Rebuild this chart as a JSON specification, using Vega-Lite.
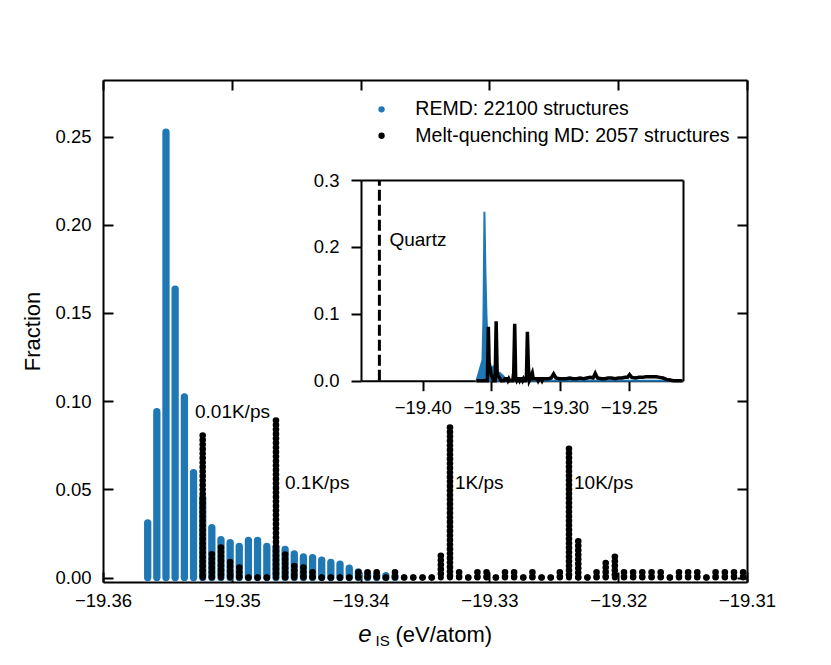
{
  "$schema": "https://vega.github.io/schema/vega-lite/v6.json",
  "width": 644,
  "height": 502,
  "autosize": "none",
  "padding": {"left": 103, "top": 80, "right": 84, "bottom": 83},
  "background": "white",
  "config": {
    "view": {"stroke": null},
    "font": "Liberation Sans",
    "axis": {
      "grid": false,
      "domainColor": "black",
      "domainWidth": 2,
      "tickColor": "black",
      "tickWidth": 2,
      "labelColor": "black",
      "labelFont": "Liberation Sans",
      "labelFontSize": 18.5,
      "titleFont": "Liberation Sans",
      "titleFontSize": 22,
      "titleFontWeight": "normal",
      "titleColor": "black",
      "labelFlush": false,
      "labelOverlap": false
    },
    "legend": {
      "labelFont": "Liberation Sans",
      "labelFontSize": 19.5,
      "labelColor": "black",
      "labelLimit": 0
    }
  },
  "datasets": {
    "bins": [
      {"e": -19.3609, "remd": 0, "mq": 0},
      {"e": -19.35653, "remd": 0.031, "mq": 0},
      {"e": -19.35582, "remd": 0.094, "mq": 0},
      {"e": -19.35511, "remd": 0.2525, "mq": 0},
      {"e": -19.3544, "remd": 0.1634, "mq": 0},
      {"e": -19.35368, "remd": 0.1024, "mq": 0},
      {"e": -19.35297, "remd": 0.0595, "mq": 0},
      {"e": -19.35226, "remd": 0.045, "mq": 0.0805},
      {"e": -19.35155, "remd": 0.0283, "mq": 0.0132},
      {"e": -19.35084, "remd": 0.0215, "mq": 0.017},
      {"e": -19.35013, "remd": 0.0197, "mq": 0.0088},
      {"e": -19.34942, "remd": 0.0177, "mq": 0.0056},
      {"e": -19.34871, "remd": 0.0211, "mq": 0},
      {"e": -19.348, "remd": 0.0211, "mq": 0},
      {"e": -19.34728, "remd": 0.0177, "mq": 0},
      {"e": -19.34657, "remd": 0.017, "mq": 0.089},
      {"e": -19.34586, "remd": 0.016, "mq": 0.013},
      {"e": -19.34515, "remd": 0.0134, "mq": 0.0065},
      {"e": -19.34444, "remd": 0.0117, "mq": 0.0056},
      {"e": -19.34373, "remd": 0.0112, "mq": 0.003},
      {"e": -19.34302, "remd": 0.0098, "mq": 0},
      {"e": -19.34231, "remd": 0.0086, "mq": 0},
      {"e": -19.3416, "remd": 0.0075, "mq": 0},
      {"e": -19.34088, "remd": 0.0053, "mq": 0},
      {"e": -19.34017, "remd": 0.0032, "mq": 0.003},
      {"e": -19.33946, "remd": 0.0022, "mq": 0.003},
      {"e": -19.33875, "remd": 0.0015, "mq": 0.003},
      {"e": -19.33804, "remd": 0.001, "mq": 0},
      {"e": -19.33733, "remd": 0.0006, "mq": 0.003},
      {"e": -19.33662, "remd": 0, "mq": 0},
      {"e": -19.33591, "remd": 0, "mq": 0},
      {"e": -19.33519, "remd": 0, "mq": 0},
      {"e": -19.33448, "remd": 0, "mq": 0},
      {"e": -19.33377, "remd": 0, "mq": 0.0123},
      {"e": -19.33306, "remd": 0, "mq": 0.085},
      {"e": -19.33235, "remd": 0, "mq": 0.003},
      {"e": -19.33164, "remd": 0, "mq": 0},
      {"e": -19.33093, "remd": 0, "mq": 0.003},
      {"e": -19.33022, "remd": 0, "mq": 0.003},
      {"e": -19.3295, "remd": 0, "mq": 0},
      {"e": -19.32879, "remd": 0, "mq": 0.003},
      {"e": -19.32808, "remd": 0, "mq": 0.003},
      {"e": -19.32737, "remd": 0, "mq": 0},
      {"e": -19.32666, "remd": 0, "mq": 0.003},
      {"e": -19.32595, "remd": 0, "mq": 0},
      {"e": -19.32524, "remd": 0, "mq": 0},
      {"e": -19.32453, "remd": 0, "mq": 0.003},
      {"e": -19.32382, "remd": 0, "mq": 0.073},
      {"e": -19.3231, "remd": 0, "mq": 0.0205},
      {"e": -19.32239, "remd": 0, "mq": 0},
      {"e": -19.32168, "remd": 0, "mq": 0.003},
      {"e": -19.32097, "remd": 0, "mq": 0.0082},
      {"e": -19.32026, "remd": 0, "mq": 0.0118},
      {"e": -19.31955, "remd": 0, "mq": 0.003},
      {"e": -19.31884, "remd": 0, "mq": 0.003},
      {"e": -19.31813, "remd": 0, "mq": 0.003},
      {"e": -19.31741, "remd": 0, "mq": 0.003},
      {"e": -19.3167, "remd": 0, "mq": 0.003},
      {"e": -19.31599, "remd": 0, "mq": 0},
      {"e": -19.31528, "remd": 0, "mq": 0.003},
      {"e": -19.31457, "remd": 0, "mq": 0.003},
      {"e": -19.31386, "remd": 0, "mq": 0.003},
      {"e": -19.31315, "remd": 0, "mq": 0},
      {"e": -19.31244, "remd": 0, "mq": 0.003},
      {"e": -19.31172, "remd": 0, "mq": 0.003},
      {"e": -19.31101, "remd": 0, "mq": 0.003},
      {"e": -19.3103, "remd": 0, "mq": 0.003},
      {"e": -19.3085, "remd": 0, "mq": 0.003},
      {"e": -19.3065, "remd": 0, "mq": 0.004},
      {"e": -19.3047, "remd": 0, "mq": 0.01},
      {"e": -19.303, "remd": 0, "mq": 0.004},
      {"e": -19.3005, "remd": 0, "mq": 0.003},
      {"e": -19.298, "remd": 0, "mq": 0.003},
      {"e": -19.2955, "remd": 0, "mq": 0.003},
      {"e": -19.293, "remd": 0, "mq": 0.004},
      {"e": -19.2905, "remd": 0, "mq": 0.003},
      {"e": -19.288, "remd": 0, "mq": 0.003},
      {"e": -19.2855, "remd": 0, "mq": 0.004},
      {"e": -19.283, "remd": 0, "mq": 0.003},
      {"e": -19.2805, "remd": 0, "mq": 0.004},
      {"e": -19.278, "remd": 0, "mq": 0.005},
      {"e": -19.276, "remd": 0, "mq": 0.004},
      {"e": -19.2744, "remd": 0, "mq": 0.011},
      {"e": -19.2728, "remd": 0, "mq": 0.004},
      {"e": -19.27, "remd": 0, "mq": 0.003},
      {"e": -19.2675, "remd": 0, "mq": 0.003},
      {"e": -19.265, "remd": 0, "mq": 0.004},
      {"e": -19.2625, "remd": 0, "mq": 0.004},
      {"e": -19.26, "remd": 0, "mq": 0.003},
      {"e": -19.2575, "remd": 0, "mq": 0.004},
      {"e": -19.255, "remd": 0, "mq": 0.004},
      {"e": -19.2525, "remd": 0, "mq": 0.005},
      {"e": -19.2508, "remd": 0, "mq": 0.005},
      {"e": -19.2494, "remd": 0, "mq": 0.009},
      {"e": -19.2478, "remd": 0, "mq": 0.005},
      {"e": -19.245, "remd": 0, "mq": 0.004},
      {"e": -19.2425, "remd": 0, "mq": 0.005},
      {"e": -19.24, "remd": 0, "mq": 0.005},
      {"e": -19.2375, "remd": 0, "mq": 0.006},
      {"e": -19.235, "remd": 0, "mq": 0.006},
      {"e": -19.2325, "remd": 0, "mq": 0.006},
      {"e": -19.23, "remd": 0, "mq": 0.006},
      {"e": -19.2275, "remd": 0, "mq": 0.005},
      {"e": -19.225, "remd": 0, "mq": 0.004},
      {"e": -19.2225, "remd": 0, "mq": 0.002},
      {"e": -19.22, "remd": 0, "mq": 0.001},
      {"e": -19.2175, "remd": 0, "mq": 0},
      {"e": -19.211, "remd": 0, "mq": 0}
    ],
    "rates": [
      {"rate": "0.01K/ps", "e": -19.35286, "y": 0.094},
      {"rate": "0.1K/ps", "e": -19.34587, "y": 0.0534},
      {"rate": "1K/ps", "e": -19.33267, "y": 0.0534},
      {"rate": "10K/ps", "e": -19.32343, "y": 0.0534}
    ],
    "quartz": [
      {"label": "Quartz", "e": -19.4316}
    ]
  },
  "layer": [
    {
      "data": {"name": "bins"},
      "transform": [{"filter": {"field": "remd", "gt": 0}}],
      "mark": {"type": "rule", "strokeWidth": 7.3, "strokeCap": "round"},
      "encoding": {
        "x": {
          "field": "e", "type": "quantitative",
          "scale": {"domain": [-19.36, -19.31], "nice": false, "zero": false},
          "axis": {
            "orient": "bottom",
            "values": [-19.36, -19.35, -19.34, -19.33, -19.32, -19.31],
            "format": ".2f", "tickSize": -10, "labelPadding": 19.5,
            "title": "e", "titleFontStyle": "italic", "titleFontSize": 24,
            "titleAlign": "left", "titleBaseline": "alphabetic",
            "titleX": 254.7, "titleY": 59
          }
        },
        "y": {
          "field": "remd", "type": "quantitative",
          "scale": {"domain": [-0.00255, 0.28203], "nice": false, "zero": false},
          "axis": {
            "orient": "left",
            "values": [0, 0.05, 0.1, 0.15, 0.2, 0.25],
            "format": ".2f", "tickSize": -10, "labelPadding": 22,
            "title": "Fraction", "titlePadding": 10
          }
        },
        "y2": {"datum": 0},
        "color": {
          "datum": "REMD: 22100 structures",
          "scale": {
            "domain": ["REMD: 22100 structures", "Melt-quenching MD: 2057 structures"],
            "range": ["#1f77b4", "black"]
          },
          "legend": {
            "orient": "none", "legendX": 268.8, "legendY": 19.6,
            "title": null, "padding": 0,
            "symbolType": "circle", "symbolSize": 40, "symbolStrokeWidth": 0,
            "labelOffset": 24, "rowPadding": 5.4
          }
        }
      }
    },
    {
      "data": {"name": "bins"},
      "transform": [{"filter": {"field": "e", "range": [-19.3526, -19.31]}}],
      "mark": {"type": "rule", "color": "black", "strokeWidth": 6.6, "strokeCap": "round", "strokeDash": [0, 4.5]},
      "encoding": {
        "x": {
          "field": "e", "type": "quantitative",
          "scale": {"domain": [-19.36, -19.31], "nice": false, "zero": false},
          "axis": {
            "orient": "bottom", "domain": false, "ticks": false, "labels": false,
            "title": "IS", "titleFontSize": 15,
            "titleAlign": "left", "titleBaseline": "alphabetic",
            "titleX": 272, "titleY": 63
          }
        },
        "y": {
          "field": "mq", "type": "quantitative",
          "scale": {"domain": [-0.00255, 0.28203], "nice": false, "zero": false},
          "axis": null
        },
        "y2": {"datum": 0}
      }
    },
    {
      "data": {"name": "bins"},
      "transform": [{"filter": {"field": "e", "range": [-19.3526, -19.31]}}],
      "mark": {"type": "point", "filled": true, "shape": "circle", "size": 36, "opacity": 1},
      "encoding": {
        "x": {
          "field": "e", "type": "quantitative",
          "scale": {"domain": [-19.36, -19.31], "nice": false, "zero": false},
          "axis": {
            "orient": "top",
            "values": [-19.36, -19.35, -19.34, -19.33, -19.32, -19.31],
            "tickSize": -10, "labels": false, "title": null
          }
        },
        "y": {
          "datum": 0, "type": "quantitative",
          "scale": {"domain": [-0.00255, 0.28203], "nice": false, "zero": false},
          "axis": {
            "orient": "right",
            "values": [0, 0.05, 0.1, 0.15, 0.2, 0.25],
            "tickSize": -10, "labels": false, "title": null
          }
        },
        "color": {"datum": "Melt-quenching MD: 2057 structures"}
      }
    },
    {
      "data": {"name": "rates"},
      "mark": {"type": "text", "align": "left", "baseline": "middle", "fontSize": 19, "font": "Liberation Sans", "color": "black"},
      "encoding": {
        "x": {
          "field": "e", "type": "quantitative",
          "scale": {"domain": [-19.36, -19.31], "nice": false, "zero": false},
          "axis": {
            "orient": "bottom", "domain": false, "ticks": false, "labels": false,
            "title": "(eV/atom)",
            "titleAlign": "left", "titleBaseline": "alphabetic",
            "titleX": 292, "titleY": 59
          }
        },
        "y": {
          "field": "y", "type": "quantitative",
          "scale": {"domain": [-0.00255, 0.28203], "nice": false, "zero": false},
          "axis": null
        },
        "text": {"field": "rate", "type": "nominal"}
      }
    },
    {
      "data": {"name": "bins"},
      "mark": {"type": "area", "color": "#1f77b4", "stroke": "#1f77b4", "strokeWidth": 2},
      "encoding": {
        "x": {
          "field": "e", "type": "quantitative",
          "scale": {"domain": [-19.445, -19.2105], "range": [258, 580], "nice": false, "zero": false},
          "axis": {
            "orient": "bottom", "offset": -201.3,
            "values": [-19.4, -19.35, -19.3, -19.25],
            "format": ".2f", "tickSize": 10, "labelPadding": 7.5, "title": null
          }
        },
        "y": {
          "field": "remd", "type": "quantitative",
          "scale": {"domain": [0, 0.3], "range": [300.7, 100], "nice": false},
          "axis": {
            "orient": "left", "offset": -258,
            "values": [0, 0.1, 0.2, 0.3],
            "format": ".1f", "tickSize": 10, "labelPadding": 12, "title": null
          }
        }
      }
    },
    {
      "data": {"name": "bins"},
      "mark": {"type": "line", "color": "black", "strokeWidth": 3.5},
      "encoding": {
        "x": {
          "field": "e", "type": "quantitative",
          "scale": {"domain": [-19.445, -19.2105], "range": [258, 580], "nice": false, "zero": false},
          "axis": {"orient": "top", "offset": -100, "ticks": false, "labels": false, "title": null}
        },
        "y": {
          "field": "mq", "type": "quantitative",
          "scale": {"domain": [0, 0.3], "range": [300.7, 100], "nice": false},
          "axis": {"orient": "right", "offset": -64, "ticks": false, "labels": false, "title": null}
        }
      }
    },
    {
      "data": {"name": "quartz"},
      "mark": {"type": "rule", "color": "black", "strokeWidth": 3, "strokeDash": [11, 4]},
      "encoding": {
        "x": {
          "field": "e", "type": "quantitative",
          "scale": {"domain": [-19.445, -19.2105], "range": [258, 580], "nice": false, "zero": false},
          "axis": null
        },
        "y": {
          "datum": 0, "type": "quantitative",
          "scale": {"domain": [0, 0.3], "range": [300.7, 100], "nice": false},
          "axis": null
        },
        "y2": {"datum": 0.3}
      }
    },
    {
      "data": {"name": "quartz"},
      "mark": {"type": "text", "align": "left", "baseline": "middle", "dx": 10, "fontSize": 19, "font": "Liberation Sans", "color": "black"},
      "encoding": {
        "x": {
          "field": "e", "type": "quantitative",
          "scale": {"domain": [-19.445, -19.2105], "range": [258, 580], "nice": false, "zero": false},
          "axis": null
        },
        "y": {
          "datum": 0.21, "type": "quantitative",
          "scale": {"domain": [0, 0.3], "range": [300.7, 100], "nice": false},
          "axis": null
        },
        "text": {"field": "label", "type": "nominal"}
      }
    }
  ],
  "resolve": {"scale": {"x": "independent", "y": "independent"}}
}
